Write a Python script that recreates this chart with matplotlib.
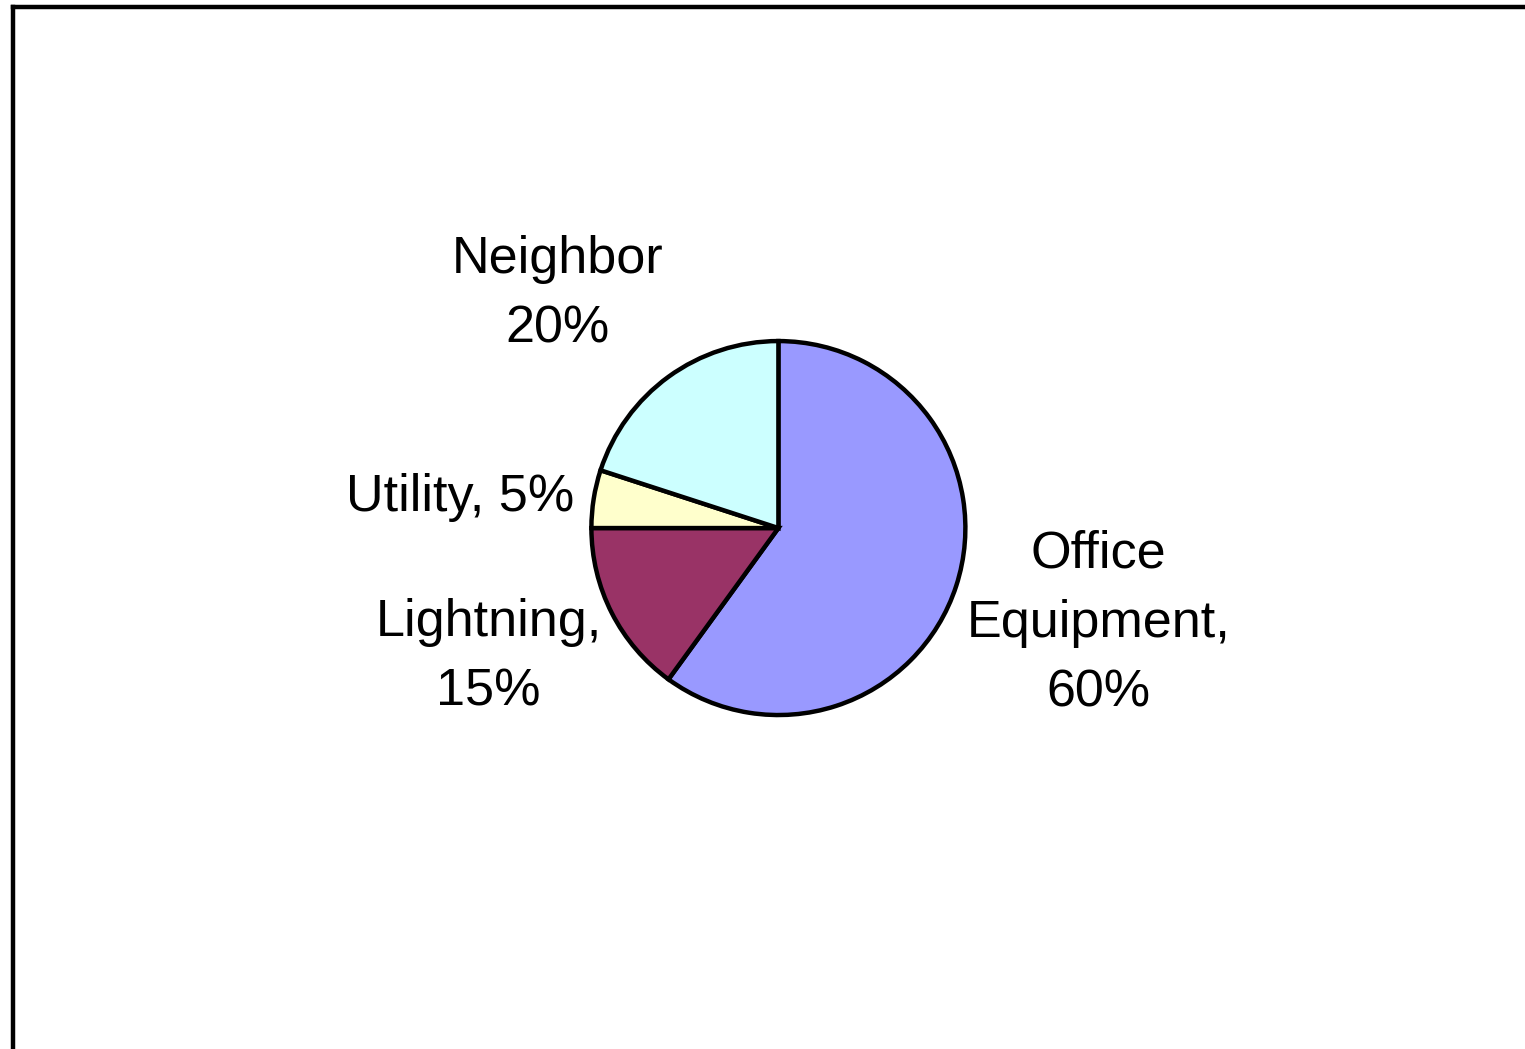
import matplotlib.pyplot as plt
from matplotlib.lines import Line2D

# slices go clockwise from 12 o'clock
causes = ['Office Equipment', 'Lightning', 'Utility', 'Neighbor']
shares = [60, 15, 5, 20]
colors = ['#9999FF', '#993366', '#FFFFCC', '#CCFFFF']
labels = ['Office\nEquipment,\n60%', 'Lightning,\n15%', 'Utility, 5%', 'Neighbor\n20%']
label_xy = [(1.71, -0.51), (-1.55, -0.69), (-1.70, 0.165), (-1.18, 1.25)]

plt.rcParams['font.family'] = ['Liberation Sans', 'DejaVu Sans']

fig = plt.figure(figsize=(15.25, 10.49), dpi=100)
ax = fig.add_axes([0, 0, 1, 1])

ax.pie(shares, colors=colors, startangle=90, counterclock=False,
       radius=1, center=(0, 0),
       wedgeprops=dict(edgecolor='black', linewidth=3.2))

for txt, (x, y) in zip(labels, label_xy):
    ax.text(x, y, txt, ha='center', va='center', fontsize=37.5, linespacing=1.53)

ax.set_xlim(-4.16, 3.99)
ax.set_ylim(-2.786, 2.824)
ax.set_aspect('equal')
ax.axis('off')

# outer frame, cut off on the right and bottom
fig.add_artist(Line2D([0.0085, 0.0085], [-0.01, 0.9933], color='black', lw=3.2, transform=fig.transFigure))
fig.add_artist(Line2D([0.0085, 1.01], [0.9933, 0.9933], color='black', lw=3.2, transform=fig.transFigure))

fig.savefig('out.png', dpi=100)
